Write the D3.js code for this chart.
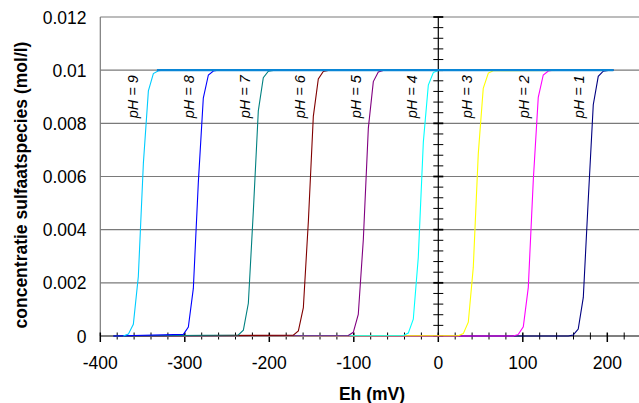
<!DOCTYPE html>
<html>
<head>
<meta charset="utf-8">
<script src="https://cdn.jsdelivr.net/npm/d3@7"></script>
<style>
  html, body { margin: 0; padding: 0; background: #fff; }
  svg { display: block; font-family: "Liberation Sans", Arial, sans-serif; }
</style>
</head>
<body>
<svg id="chart" width="639" height="403"></svg>
<script>
// pH of each curve, in drawing order
const phValues = [1, 2, 3, 4, 5, 6, 7, 8, 9];

// Eh (mV) of the half-way point of each curve, used to place the pH labels
const midEh = [177.3, 111.3, 44.8, -20.9, -86.9, -152.9, -218.5, -285.0, -351.0];

// Eh (mV) and sulfate concentration (mol/l) of every curve
const ehPH1 = [-384.5, 153.8, 159.7, 165.6, 171.6, 177.5, 183.4, 189.3, 195.2, 201.1, 207.1];
const cPH1  = [0, 0, 0.00004, 0.00026, 0.00145, 0.00515, 0.0087, 0.00977, 0.00996, 0.00999, 0.01];
const ehPH2 = [-384.5, 88.7, 94.7, 100.6, 106.5, 112.4, 118.3, 124.2, 130.2, 136.1, 207.1];
const cPH2  = [0, 0, 0.00006, 0.00035, 0.00183, 0.00585, 0.00898, 0.00982, 0.00997, 0.01, 0.01];
const ehPH3 = [-384.5, 23.7, 29.6, 35.5, 41.4, 47.3, 53.2, 59.2, 65.1, 207.1];
const cPH3  = [0, 0.00001, 0.00009, 0.00052, 0.00258, 0.00685, 0.00932, 0.00989, 0.00998, 0.01];
const ehPH4 = [-384.5, -41.4, -35.5, -29.6, -23.7, -17.7, -11.8, -5.9, 0, 207.1];
const cPH4  = [0, 0.00002, 0.00011, 0.00063, 0.00295, 0.0073, 0.00944, 0.00991, 0.00999, 0.01];
const ehPH5 = [-384.5, -106.5, -100.6, -94.7, -88.7, -82.8, -76.9, -71.0, -65.1, 207.1];
const cPH5  = [0, 0.00002, 0.00014, 0.00081, 0.00364, 0.00782, 0.00957, 0.00993, 0.00999, 0.01];
const ehPH6 = [-384.5, -171.6, -165.6, -159.7, -153.8, -147.9, -142.0, -136.1, -130.2, 207.1];
const cPH6  = [0, 0.00003, 0.00019, 0.00107, 0.0043, 0.00826, 0.00967, 0.00995, 0.00999, 0.01];
const ehPH7 = [-384.5, -236.6, -230.7, -224.8, -218.9, -213.0, -207.1, -201.1, -195.2, 207.1];
const cPH7  = [0, 0.00004, 0.00022, 0.00123, 0.00469, 0.00847, 0.00972, 0.00996, 0.00999, 0.01];
const ehPH8 = [-384.5, -301.7, -295.8, -289.9, -284.0, -278.1, -272.1, -266.2, -260.3, 207.1];
const cPH8  = [0, 0.00006, 0.00034, 0.00179, 0.00577, 0.00895, 0.00982, 0.00997, 0.01, 0.01];
const ehPH9 = [-372.7, -366.8, -360.9, -355.0, -349.0, -343.1, -337.2, -331.3, -325.4, 207.1];
const cPH9  = [0, 0.00007, 0.00044, 0.00224, 0.00651, 0.00922, 0.00987, 0.00998, 0.01, 0.01];

// total dissolved sulfur, the plateau every curve reaches
const totalEh = [-333.0, 207.1];
const totalC  = [0.01, 0.01];

// axis ticks and their labels
const xTickValues = [-400, -300, -200, -100, 0, 100, 200];
const xTickLabels = ["-400", "-300", "-200", "-100", "0", "100", "200"];
const yTickValues = [0, 0.002, 0.004, 0.006, 0.008, 0.01, 0.012];
const yTickLabels = ["0", "0.002", "0.004", "0.006", "0.008", "0.01", "0.012"];

const seriesEh = [ehPH1, ehPH2, ehPH3, ehPH4, ehPH5, ehPH6, ehPH7, ehPH8, ehPH9];
const seriesC  = [cPH1, cPH2, cPH3, cPH4, cPH5, cPH6, cPH7, cPH8, cPH9];
const seriesColors = ["#000080", "#ff00ff", "#ffff00", "#00ffff", "#800080",
                      "#800000", "#008080", "#0000ff", "#00ccff"];

const svg = d3.select("#chart");
const plot = { left: 100.3, right: 641.1, top: 17, bottom: 336 };

const x = d3.scaleLinear().domain([-400, 240]).range([plot.left, plot.right]);
const y = d3.scaleLinear().domain([0, 0.012]).range([plot.bottom, plot.top]);

// horizontal gridlines
svg.append("g").selectAll("line")
  .data(yTickValues.filter(v => v > 0))
  .join("line")
  .attr("x1", plot.left).attr("x2", plot.right)
  .attr("y1", d => y(d)).attr("y2", d => y(d))
  .attr("stroke", "#7a7a7a").attr("stroke-width", 1.2);

// left frame of the plot area
svg.append("line")
  .attr("x1", plot.left).attr("x2", plot.left)
  .attr("y1", plot.top).attr("y2", plot.bottom)
  .attr("stroke", "#7a7a7a").attr("stroke-width", 1.2);

// x axis with crossing tick marks
const axes = svg.append("g").attr("stroke", "#000");
axes.append("line")
  .attr("x1", plot.left).attr("x2", plot.right)
  .attr("y1", y(0)).attr("y2", y(0)).attr("stroke-width", 1.2);
axes.append("g").selectAll("line")
  .data(d3.range(-400, 241, 20))
  .join("line")
  .attr("x1", d => x(d)).attr("x2", d => x(d))
  .attr("y1", d => y(0) - 3.5)
  .attr("y2", d => y(0) + (d % 100 === 0 ? 6 : 3.5))
  .attr("stroke-width", d => d % 100 === 0 ? 1.5 : 1);

// y axis through Eh = 0 with crossing tick marks
axes.append("line")
  .attr("x1", x(0)).attr("x2", x(0))
  .attr("y1", y(0.012)).attr("y2", y(0)).attr("stroke-width", 1.2);
axes.append("g").selectAll("line")
  .data(d3.range(0, 31).map(i => i * 0.0004))
  .join("line")
  .attr("x1", x(0) - 5).attr("x2", x(0) + 5)
  .attr("y1", d => y(d)).attr("y2", d => y(d))
  .attr("stroke-width", (d, i) => i % 5 === 0 ? 1.8 : 1);

// tick labels
svg.append("g").selectAll("text")
  .data(xTickValues)
  .join("text")
  .attr("x", d => x(d)).attr("y", 369)
  .attr("text-anchor", "middle")
  .attr("font-size", 17.5)
  .text((d, i) => xTickLabels[i]);

svg.append("g").selectAll("text")
  .data(yTickValues)
  .join("text")
  .attr("x", 86.5).attr("y", d => y(d) + 6.5)
  .attr("text-anchor", "end")
  .attr("font-size", 17.5)
  .text((d, i) => yTickLabels[i]);

// curves, one per pH
const line = d3.line().x(d => x(d[0])).y(d => y(d[1]));
svg.append("g").selectAll("path")
  .data(phValues.map((p, i) => seriesEh[i].map((e, j) => [e, seriesC[i][j]])))
  .join("path")
  .attr("d", line)
  .attr("fill", "none")
  .attr("stroke", (d, i) => seriesColors[i])
  .attr("stroke-width", 1.1);

// plateau line
svg.append("path")
  .attr("d", line(totalEh.map((e, i) => [e, totalC[i]])))
  .attr("fill", "none")
  .attr("stroke", "#0a86d6")
  .attr("stroke-width", 2.2);

// pH labels beside each curve
svg.append("g").selectAll("text")
  .data(phValues)
  .join("text")
  .attr("transform", (d, i) => `translate(${x(midEh[i]) - 8.8 + 5},${y(0.009)}) rotate(-90)`)
  .attr("text-anchor", "middle")
  .attr("font-size", 14.5)
  .attr("font-style", "italic")
  .text(d => `pH = ${d}`);

// axis titles
svg.append("text")
  .attr("x", 372).attr("y", 400)
  .attr("text-anchor", "middle")
  .attr("font-size", 17.5).attr("font-weight", "bold")
  .text("Eh (mV)");

svg.append("text")
  .attr("transform", "translate(27,185) rotate(-90)")
  .attr("text-anchor", "middle")
  .attr("font-size", 17.5).attr("font-weight", "bold")
  .text("concentratie sulfaatspecies (mol/l)");
</script>
</body>
</html>
